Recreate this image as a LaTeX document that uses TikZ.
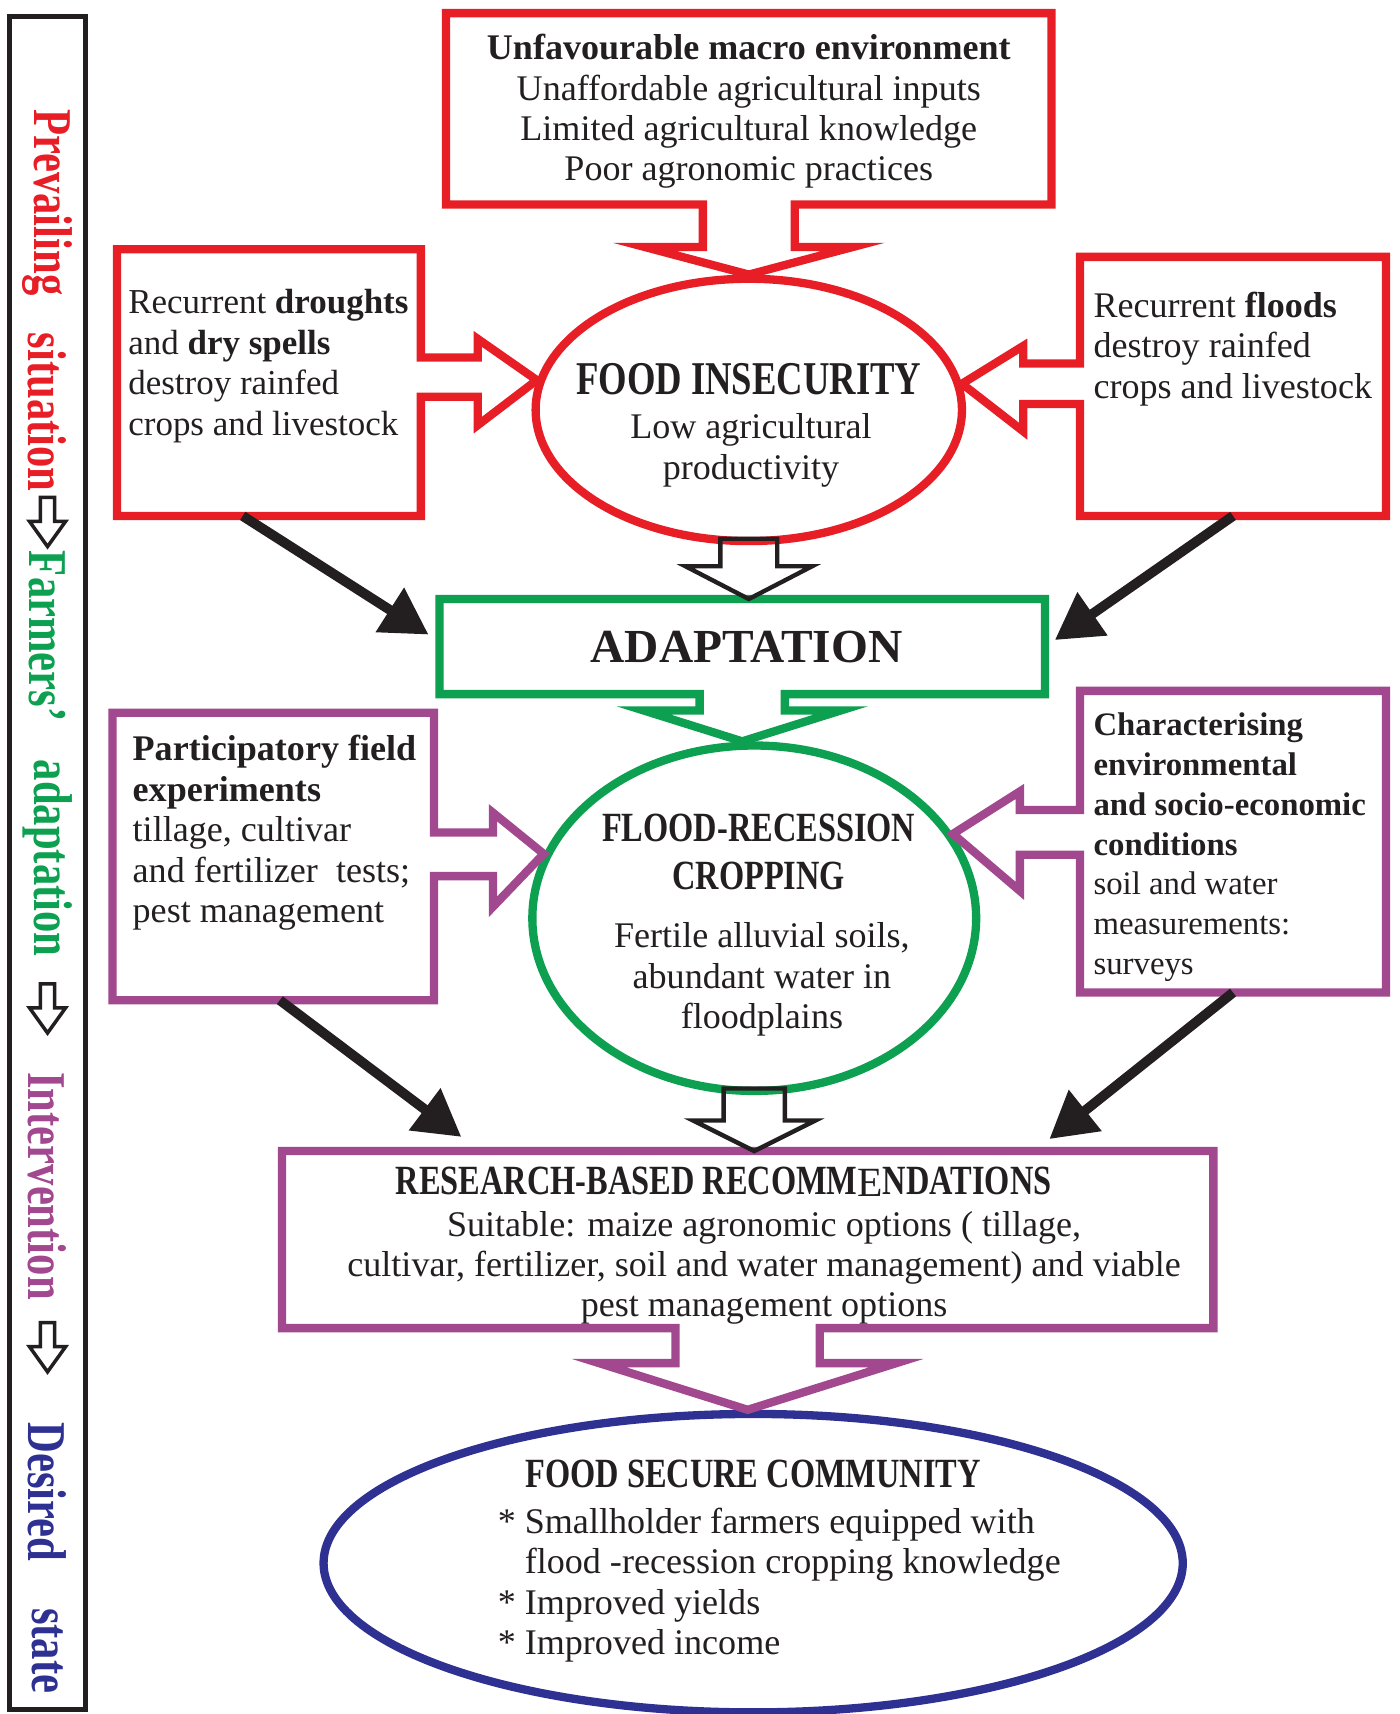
\documentclass[tikz,border=0pt]{standalone}
\usepackage{fontspec}
\setmainfont{Liberation Serif}
\newfontfamily\condfont[FakeStretch=0.78]{Liberation Serif}
\usetikzlibrary{arrows.meta,calc,shapes.geometric}
\definecolor{fsred}{RGB}{232,30,38}
\definecolor{fsgreen}{RGB}{12,160,80}
\definecolor{fspurple}{RGB}{162,72,142}
\definecolor{fsnavy}{RGB}{46,49,146}
\definecolor{ink}{RGB}{35,31,32}
\begin{document}
\begin{tikzpicture}[x=0.5pt,y=-0.5pt]
    \tikzset{boxarea/.style = {rectangle, inner sep=0pt, outer sep=0pt}}
    \tikzset{oval/.style = {ellipse, draw, inner sep=0pt, line width=3.8pt}}
    \tikzset{boxline/.style = {line width=3.8pt, line join=miter}}
    \tikzset{hollowarrow/.style = {draw=ink, line width=2pt, line join=miter}}
    \tikzset{sidearrow/.style = {draw=ink, line width=1.6pt, line join=miter, fill=white}}
    \tikzset{blackarrow/.style = {draw=ink, line width=4.5pt, -{Triangle[length=21pt,width=23pt]}}}
    \tikzset{bodytext/.style = {inner sep=0pt, text=ink, font=\fontsize{16.5}{18.5}\selectfont}}
    \tikzset{titletext/.style = {inner sep=0pt, text=ink, font=\condfont\bfseries\fontsize{19}{22}\selectfont}}
    \tikzset{sidetext/.style = {inner sep=0pt, rotate=-90, font=\condfont\bfseries\fontsize{25}{25}\selectfont}}
    \useasboundingbox (0,0) rectangle (1280,1568);

    % side bar
    \node[boxarea, draw=ink, line width=2.3pt, minimum width=34.5pt, minimum height=774.5pt] (sidebar) at (43.5,789.5) {};
    \node[sidetext, text=fsred] (prev) at (43.5,185) {Prevailing};
    \node[sidetext, text=fsred] (sit) at (43.5,377) {situation};
    \node[sidetext, text=fsgreen] (farm) at (43.5,582) {Farmers’};
    \node[sidetext, text=fsgreen] (adaptw) at (43.5,785) {adaptation};
    \node[sidetext, text=fspurple] (inter) at (43.5,1085) {Intervention};
    \node[sidetext, text=fsnavy] (des) at (43.5,1365) {Desired};
    \node[sidetext, text=fsnavy] (state) at (43.5,1510) {state};
    \foreach \y in {455,900,1210}
        \draw[sidearrow] (37,\y) -- (50,\y) -- (50,\y+22) -- (60,\y+22) -- (43.5,\y+45) -- (27,\y+22) -- (37,\y+22) -- cycle;

    % shapes
    \node[boxarea, minimum width=277pt, minimum height=87.5pt] (macro) at (685,99.5) {};
    \node[boxarea, minimum width=139pt, minimum height=122pt] (drought) at (246,350) {};
    \node[boxarea, minimum width=140pt, minimum height=118.5pt] (floodbox) at (1128,353.5) {};
    \node[oval, draw=fsred, minimum width=195pt, minimum height=120pt] (insec) at (685,375) {};
    \node[boxarea, minimum width=277pt, minimum height=43.5pt] (adapt) at (679,591.5) {};
    \node[boxarea, minimum width=147pt, minimum height=131.5pt] (partbox) at (250,783.5) {};
    \node[boxarea, minimum width=140pt, minimum height=138pt] (charbox) at (1128,770) {};
    \node[oval, draw=fsgreen, minimum width=203pt, minimum height=158pt] (flood) at (690,840) {};
    \node[boxarea, minimum width=426pt, minimum height=81pt] (research) at (684,1134) {};
    \node[oval, draw=fsnavy, minimum width=393pt, minimum height=136.5pt] (community) at (689,1430) {};

    % call-out outlines
    \draw[boxline, draw=fsred] (macro.north west) -- (macro.north east) -- (macro.south east)
        -- ($(macro.south)+(42,0)$) -- ++(0,39) -- ++(53,0) -- (insec.north)
        -- ($(macro.south)+(-95,39)$) -- ++(53,0) -- ($(macro.south)+(-42,0)$)
        -- (macro.south west) -- cycle;
    \draw[boxline, draw=fsred] (drought.north west) -- (drought.north east)
        -- ($(drought.east)+(0,-23)$) -- ++(52,0) -- ++(0,-17) -- (insec.172)
        -- ($(drought.east)+(52,39)$) -- ++(0,-26) -- ($(drought.east)+(0,13)$)
        -- (drought.south east) -- (drought.south west) -- cycle;
    \draw[boxline, draw=fsred] (floodbox.north east) -- (floodbox.north west)
        -- ($(floodbox.west)+(0,-21)$) -- ++(-52,0) -- ++(0,-16) -- (insec.7)
        -- ($(floodbox.west)+(-52,41)$) -- ++(0,-25) -- ($(floodbox.west)+(0,16)$)
        -- (floodbox.south west) -- (floodbox.south east) -- cycle;
    \draw[boxline, draw=fsgreen] (adapt.north west) -- (adapt.north east) -- (adapt.south east)
        -- ($(adapt.south)+(39,0)$) -- ++(0,15) -- ++(51,0) -- (adapt.south |- flood.north)
        -- ($(adapt.south)+(-90,15)$) -- ++(51,0) -- ($(adapt.south)+(-39,0)$)
        -- (adapt.south west) -- cycle;
    \draw[boxline, draw=fspurple] (partbox.north west) -- (partbox.north east)
        -- ($(partbox.east)+(0,-22)$) -- ++(54,0) -- ++(0,-18) -- (flood.163)
        -- ($(partbox.east)+(54,46)$) -- ++(0,-28) -- ($(partbox.east)+(0,18)$)
        -- (partbox.south east) -- (partbox.south west) -- cycle;
    \draw[boxline, draw=fspurple] (charbox.north east) -- (charbox.north west)
        -- ($(charbox.west)+(0,-29)$) -- ++(-55,0) -- ++(0,-17) -- (flood.23)
        -- ($(charbox.west)+(-55,45)$) -- ++(0,-33) -- ($(charbox.west)+(0,12)$)
        -- (charbox.south west) -- (charbox.south east) -- cycle;
    \draw[boxline, draw=fspurple] (research.north west) -- (research.north east) -- (research.south east)
        -- ($(research.south)+(66,0)$) -- ++(0,32) -- ++(70,0) -- (research.south |- community.north)
        -- ($(research.south)+(-136,32)$) -- ++(70,0) -- ($(research.south)+(-66,0)$)
        -- (research.south west) -- cycle;

    % connectors
    \draw[hollowarrow] (insec.south |- adapt.north) -- ++(58,-30) -- ++(-32,0)
        |- ($(insec.south)+(-26,-6)$) -- ($(insec.south |- adapt.north)+(-26,-30)$) -- ++(-32,0) -- cycle;
    \draw[hollowarrow] (flood.south |- research.north) -- ++(56,-28) -- ++(-28,0)
        |- ($(flood.south)+(-28,-6)$) -- ($(flood.south |- research.north)+(-28,-28)$) -- ++(-28,0) -- cycle;
    \draw[blackarrow] ([xshift=-12pt]drought.south) -- ($(adapt.west)+(-10,-11)$);
    \draw[blackarrow] (floodbox.south) -- ($(adapt.east)+(9,-6)$);
    \draw[blackarrow] ([xshift=3pt]partbox.south) -- ($(research.north)+(-262,-13)$);
    \draw[blackarrow] (charbox.south) -- ($(research.north)+(276,-11)$);

    % texts
    \node[bodytext, align=center] (macro-t) at (685,102) {\textbf{Unfavourable macro environment}\\Unaffordable agricultural inputs\\Limited agricultural knowledge\\Poor agronomic practices};
    \node[bodytext, align=left, anchor=west, font=\fontsize{16}{18.5}\selectfont] (drought-t) at (117,335) {Recurrent \textbf{droughts}\\and \textbf{dry spells}\\destroy rainfed\\crops and livestock};
    \node[bodytext, align=left, anchor=west] (flood-t) at (1000,319) {Recurrent \textbf{floods}\\destroy rainfed\\crops and livestock};
    \node[titletext, font=\condfont\bfseries\fontsize{21.5}{24}\selectfont] (insec-t) at (685,347) {FOOD INSECURITY};
    \node[bodytext, align=center] (insec-b) at (687,412) {Low agricultural\\productivity};
    \node[bodytext, font=\bfseries\fontsize{21.7}{24}\selectfont] (adapt-t) at (683,592) {ADAPTATION};
    \node[titletext, align=center] (flood-t2) at (694,779) {FLOOD-RECESSION\\CROPPING};
    \node[bodytext, align=center] (flood-b) at (697,896) {Fertile alluvial soils,\\abundant water in\\floodplains};
    \node[bodytext, align=left, anchor=west] (part-t) at (121,762) {\textbf{Participatory field}\\\textbf{experiments}\\tillage, cultivar\\and fertilizer\ \ tests;\\pest management};
    \node[bodytext, align=left, anchor=west, font=\fontsize{15}{18.25}\selectfont] (char-t) at (1000,775) {\textbf{Characterising}\\\textbf{environmental}\\\textbf{and socio-economic}\\\textbf{conditions}\\soil and water\\measurements:\\surveys};
    \node[titletext] (research-t) at (662,1081) {RESEARCH-BASED RECOMM\raisebox{-1pt}{\normalfont E}NDATIONS};
    \node[bodytext, align=center, font=\fontsize{16.5}{18.25}\selectfont] (research-b) at (699,1160) {Suitable: maize agronomic options ( tillage,\\cultivar, fertilizer, soil and water management) and viable\\pest management options};
    \node[titletext] (community-t) at (689,1348) {FOOD SECURE COMMUNITY};
    \node[bodytext, align=left, anchor=west] (community-b) at (455,1450) {* Smallholder farmers equipped with\\\phantom{*}\ flood -recession cropping knowledge\\* Improved yields\\* Improved income};
\end{tikzpicture}
\end{document}
